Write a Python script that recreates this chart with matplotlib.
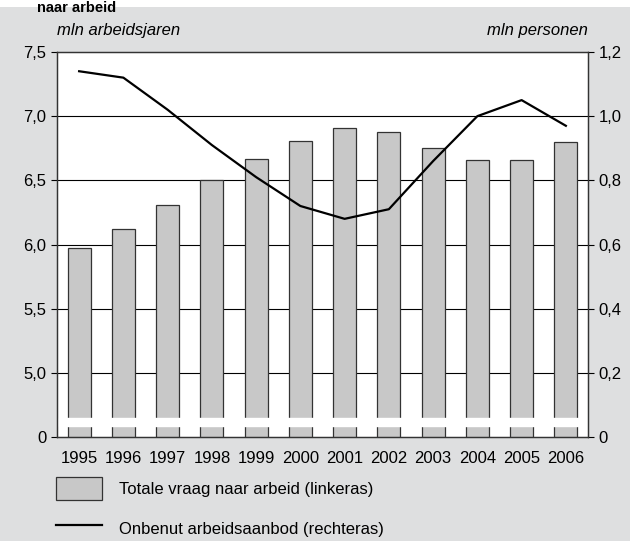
import matplotlib
matplotlib.use("Agg")
import matplotlib.pyplot as plt
from matplotlib.patches import Rectangle, Patch
from matplotlib.lines import Line2D
import numpy as np

plt.rcParams["font.family"] = ["Liberation Sans", "DejaVu Sans"]

# ── Data ────────────────────────────────────────────────────────────────
jaren = ["1995", "1996", "1997", "1998", "1999", "2000",
         "2001", "2002", "2003", "2004", "2005", "2006"]
vraag = [5.97, 6.12, 6.31, 6.50, 6.67, 6.81, 6.91, 6.88, 6.75, 6.66, 6.66, 6.80]
aanbod = [1.14, 1.12, 1.02, 0.91, 0.81, 0.72, 0.68, 0.71, 0.86, 1.00, 1.05, 0.97]

links_ticks = [4.5, 5.0, 5.5, 6.0, 6.5, 7.0, 7.5]
links_labels = ["0", "5,0", "5,5", "6,0", "6,5", "7,0", "7,5"]
rechts_ticks = [0, 0.2, 0.4, 0.6, 0.8, 1.0, 1.2]
rechts_labels = ["0", "0,2", "0,4", "0,6", "0,8", "1,0", "1,2"]

bg = "#dedfe0"
bar_c = "#c8c8c8"
fs = 12

fig = plt.figure(figsize=(6.3, 5.41), dpi=100, facecolor="white")
fig.patches.append(Rectangle((0, 0), 1, 0.987, transform=fig.transFigure,
                             facecolor=bg, edgecolor="none", zorder=-10))
fig.text(0.058, 0.999, "naar arbeid", fontsize=10.5, fontweight="bold", va="top")

ax = fig.add_axes([0.0905, 0.1922, 0.8428, 0.7117])
ax.set_facecolor("white")
x = np.arange(len(jaren))
ax.bar(x, vraag, width=0.52, color=bar_c, edgecolor="#333333", linewidth=0.9, zorder=2)
ax.set_ylim(4.5, 7.5)
ax.set_xlim(-0.5, len(jaren) - 0.5)
ax.set_yticks(links_ticks)
ax.set_yticklabels(links_labels)
for v in links_ticks[1:-1]:
    ax.axhline(v, color="black", linewidth=0.8, zorder=1)
# as-onderbreking
ax.axhspan(4.587, 4.648, xmin=0.003, xmax=0.982, color="white", zorder=3)

ax.set_xticks(x)
ax.set_xticklabels(jaren)
ax.tick_params(axis="x", length=0, labelsize=fs, pad=10)
ax.tick_params(axis="y", length=4, width=0.8, labelsize=fs, direction="out")

ax2 = ax.twinx()
ax2.plot(x, aanbod, color="black", linewidth=1.6, zorder=4)
ax2.set_ylim(0, 1.2)
ax2.set_yticks(rechts_ticks)
ax2.set_yticklabels(rechts_labels)
ax2.tick_params(axis="y", length=4, width=0.8, labelsize=fs, direction="out")

for a in (ax, ax2):
    for s in a.spines.values():
        s.set_color("#333333")
        s.set_linewidth(0.9)

fig.text(0.0905, 0.9445, "mln arbeidsjaren", fontsize=fs, style="italic", va="center")
fig.text(0.933, 0.9445, "mln personen", fontsize=fs, style="italic", va="center", ha="right")

handles = [Patch(facecolor=bar_c, edgecolor="#333333", linewidth=0.9),
           Line2D([0], [0], color="black", linewidth=1.6)]
fig.legend(handles, ["Totale vraag naar arbeid (linkeras)", "Onbenut arbeidsaanbod (rechteras)"],
           loc="upper left", bbox_to_anchor=(0.07, 0.14), frameon=False,
           fontsize=fs, handlelength=2.8, handleheight=1.75, handletextpad=1.0,
           labelspacing=1.0, borderpad=0.2)

fig.savefig("out.png", dpi=100, facecolor="white")
